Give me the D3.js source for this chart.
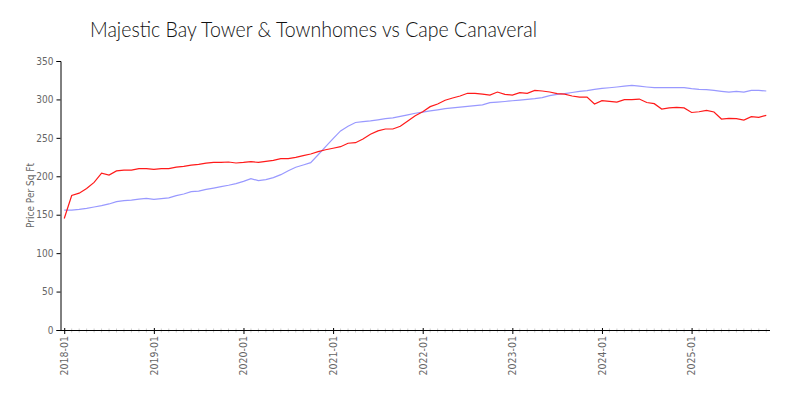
<!DOCTYPE html>
<html><head><meta charset="utf-8">
<script src="https://cdn.jsdelivr.net/npm/d3@7"></script>
<style>
body{margin:0;background:#fff;}
svg{display:block;}
text{font-family:"Liberation Sans Narrow", "DejaVu Sans Condensed", sans-serif;}
</style></head>
<body><svg id="c" width="800" height="400"></svg>
<script>
const title = "Majestic Bay Tower & Townhomes vs Cape Canaveral";
const yLabel = "Price Per Sq Ft";
const yTicks = [0, 50, 100, 150, 200, 250, 300, 350];
const months = d3.timeMonths(new Date(2018,0,1), new Date(2025,11,1)).map(d3.timeFormat("%Y-%m"));
const majesticBay = [
145,175,178,184,192,204,201.5,207,208,208,210,210,
209,210,210,212,213,214.5,215.5,217,218,218,218.6,217.3,
218,219,218,219.5,220.8,223,223,224.7,226.8,229,232,234.5,
236.5,238.5,243,243.7,248.5,254.6,259,261.5,261.5,265,272,278.8,
284,290.6,294,299,301.8,304.5,308,308,307,305.7,309.6,306.6,
305.7,308.8,308,311.8,311,309.7,307.5,307,304.5,303,303,294,
298.4,297.5,296.6,299.7,299.7,300.5,296,294.5,287.5,289,289.7,289,
283,284,285.8,283.6,274.5,275.4,275,273.2,277.5,276.7,279.3];
const capeCanaveral = [
156,156,157,158.3,160,161.8,164,167,168.3,169,170.4,171.3,
170,170.9,172,174.8,177,180,180.8,183,184.7,186.5,188.3,190.4,
193.4,196.9,194.3,195.6,198.2,202.1,207.3,211.7,214.7,217.7,228,238.5,
249,259,265,270,271,272,273.5,275,276,278,280,282,
283.5,285,286.5,288,289,290,291,292,293,295.8,296.5,297.3,
298.3,299.2,300,301,302.3,305,306.5,307.5,309,310.5,311.5,313,
314.3,315.2,316.2,317.2,318.2,317.2,316.2,315.3,315.3,315.3,315.3,315.3,
314,313,312.7,311.7,310.5,309.5,310.5,309.5,311.8,311.8,311];

const svg = d3.select("#c");
const L = 60.5, R = 770, T = 61, B = 330;
const x = d3.scalePoint().domain(months).range([L, R]).padding(0.5);
const y = d3.scaleLinear().domain([0, 350]).range([B, T]);
const FONT = '"Liberation Sans Narrow", "DejaVu Sans Condensed", sans-serif';

svg.append("text").attr("x", 90).attr("y", 37).attr("font-size", 22)
  .style("font-family", "Lato, sans-serif").attr("font-weight", 300)
  .attr("textLength", 447).attr("lengthAdjust", "spacingAndGlyphs")
  .attr("fill", "#111").text(title);

// y axis
const ya = svg.append("g").attr("transform", `translate(${L},0)`)
  .call(d3.axisLeft(y).tickValues(yTicks).tickSize(4).tickPadding(3));
ya.select(".domain").attr("stroke", "#000");
ya.selectAll(".tick line").attr("stroke", "#000");
ya.selectAll(".tick text").attr("font-size", 10).attr("fill", "#666").style("font-family", FONT);

svg.append("text").attr("transform", `translate(30,${(T+B)/2}) rotate(-90)`)
  .attr("text-anchor", "middle").attr("dy", "0.35em").attr("font-size", 10).attr("fill", "#666")
  .style("font-family", FONT).text(yLabel);

// x axis: minor monthly ticks
const xg = svg.append("g").attr("transform", `translate(0,${B})`);
xg.selectAll("line.minor").data(months.filter(m => !m.endsWith("-01"))).join("line")
  .attr("class", "minor").attr("x1", d => x(d)).attr("x2", d => x(d))
  .attr("y1", -1.5).attr("y2", 2.5).attr("stroke", "#ccc");
const xa = svg.append("g").attr("transform", `translate(0,${B})`)
  .call(d3.axisBottom(x).tickValues(months.filter(m => m.endsWith("-01"))).tickSize(4).tickPadding(4));
xa.select(".domain").attr("d", `M${L},0.5H${R}`).attr("stroke", "#000");
xa.selectAll(".tick line").attr("stroke", "#000").attr("y1", -2);
xa.selectAll(".tick text").attr("font-size", 10.5).attr("fill", "#666").style("font-family", FONT)
  .attr("transform", "rotate(-90)").attr("text-anchor", "end").attr("dy", "0.32em")
  .attr("x", -6).attr("y", 0);

const line = arr => d3.line().x((d, i) => x(months[i])).y(d => y(d))(arr);
svg.append("path").attr("d", line(capeCanaveral)).attr("fill", "none").attr("stroke", "#9999ff").attr("stroke-width", 1.2);
svg.append("path").attr("d", line(majesticBay)).attr("fill", "none").attr("stroke", "#ff1a1a").attr("stroke-width", 1.2);
</script></body></html>
